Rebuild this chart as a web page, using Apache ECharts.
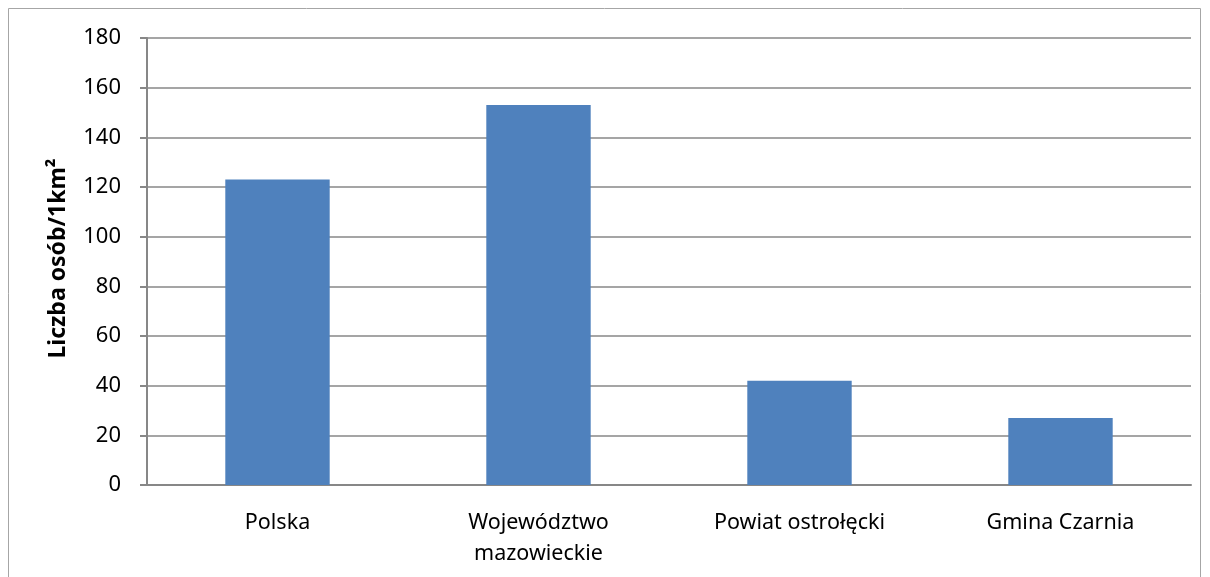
<!DOCTYPE html>
<html>
<head>
<meta charset="utf-8">
<script src="https://cdn.jsdelivr.net/npm/echarts@6/dist/echarts.min.js"></script>
<style>
    html, body { margin: 0; padding: 0; background: #fff; }
    #main { width: 1210px; height: 577px; }
</style>
</head>
<body>
<div id="main"></div>
<script>
const categories = ['Polska', 'Województwo\nmazowieckie', 'Powiat ostrołęcki', 'Gmina Czarnia'];
const values = [123, 153, 42, 27];
const yTicks = [0, 20, 40, 60, 80, 100, 120, 140, 160, 180];

const chart = echarts.init(document.getElementById('main'));
const font = '"Noto Sans", sans-serif';

chart.setOption({
    animation: false,
    graphic: [{
        type: 'rect',
        shape: { x: 8.5, y: 8.5, width: 1192, height: 580 },
        style: { fill: null, stroke: '#a6a6a6', lineWidth: 1 },
        silent: true
    }],
    grid: { left: 147, right: 19, top: 38, bottom: 92 },
    xAxis: {
        type: 'category',
        data: categories,
        axisLine: { lineStyle: { color: '#878787', width: 2 } },
        axisTick: { show: false },
        axisLabel: {
            color: '#000',
            fontFamily: font,
            fontSize: 21.5,
            lineHeight: 31,
            margin: 22
        }
    },
    yAxis: {
        type: 'value',
        min: yTicks[0],
        max: yTicks[yTicks.length - 1],
        interval: 20,
        name: 'Liczba osób/1km²',
        nameLocation: 'middle',
        nameGap: 77,
        nameTextStyle: { color: '#000', fontFamily: font, fontSize: 23, fontWeight: 'bold', padding: [0, 0, 0, 6] },
        axisLine: { show: true, lineStyle: { color: '#878787', width: 2 } },
        axisTick: { show: true, length: 7, lineStyle: { color: '#878787', width: 2 } },
        splitLine: { lineStyle: { color: '#878787', width: 1.5 } },
        axisLabel: {
            color: '#000',
            fontFamily: font,
            fontSize: 22,
            margin: 26
        }
    },
    series: [{
        type: 'bar',
        data: values,
        barWidth: '40%',
        itemStyle: { color: '#4f81bd' }
    }]
});
</script>
</body>
</html>
